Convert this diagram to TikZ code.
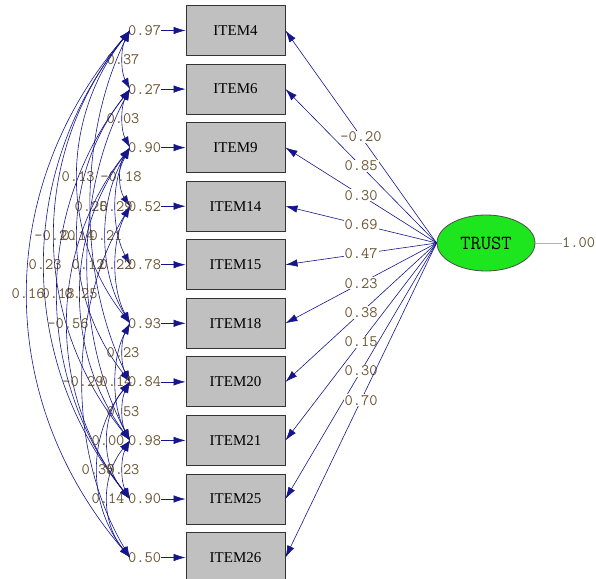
\documentclass[tikz,border=0pt]{standalone}
\usepackage{fontspec}
\setmainfont{Liberation Serif}
\usetikzlibrary{arrows.meta,calc,shapes.geometric}

\definecolor{pathblue}{RGB}{22,22,140}
\definecolor{estbrown}{RGB}{105,85,50}
\definecolor{obsgray}{RGB}{192,192,192}
\definecolor{latgreen}{RGB}{30,230,30}

\tikzset{
  observed/.style={draw=black!80, fill=obsgray, line width=1pt,
    minimum width=99pt, minimum height=50pt, inner sep=0pt,
    font=\fontsize{15}{15}\selectfont},
  latent/.style={ellipse, draw=black!70, fill=latgreen, line width=0.8pt,
    minimum width=98pt, minimum height=56pt, inner sep=0pt,
    font=\ttfamily\fontsize{20}{20}\selectfont},
  est/.style={text=estbrown, inner sep=1pt,
    font=\ttfamily\fontsize{16}{16}\selectfont},
  errval/.style={est, inner sep=0pt, anchor=west},
  path arrow/.style={draw=pathblue, line width=0.6pt,
    -{Latex[length=12pt,width=7.5pt]}},
  cov arrow/.style={draw=pathblue, line width=0.6pt,
    {Latex[length=11pt,width=7.5pt]}-{Latex[length=11pt,width=7.5pt]}},
}

% covariance between two error terms: #3 = how far the arc swings left
\newcommand{\drawcov}[4]{%
  \draw[cov arrow] let \p1=($(#1.west)+(2pt,0)$), \p2=($(#2.west)+(2pt,0)$) in
    (\p1) .. controls (\x1-1.333*#3pt, \y1+0.3*\y2-0.3*\y1)
             and (\x2-1.333*#3pt, \y2-0.3*\y2+0.3*\y1) .. (\p2)
    node[est, pos=0.5] {#4};
}

\begin{document}
\begin{tikzpicture}[x=1pt,y=-1pt]
  \useasboundingbox (0,0) rectangle (596,578);

  % indicators with their error variances
  \foreach \n/\y/\err in {4/30.5/0.97, 6/89.1/0.27, 9/147.6/0.90,
      14/206.2/0.52, 15/264.7/0.78, 18/323.3/0.93, 20/381.9/0.84,
      21/440.4/0.98, 25/499/0.90, 26/557.5/0.50}{
    \node[observed] (I\n) at (235.5,\y) {ITEM\n};
    \node[errval] (e\n) at (128,\y) {\err};
    \draw[path arrow] (e\n) -- (I\n);
  }

  % error covariances
  \foreach \a/\b/\d/\v in {4/6/7/0.37, 6/9/7/0.03, 9/14/9/-0.18,
      4/18/52/0.13, 9/15/14/0.29, 4/20/39/0.25, 4/21/75/-0.20,
      6/20/52/0.14, 9/18/24/0.21, 4/25/85/0.23, 6/21/42/0.12,
      14/18/14/0.22, 4/26/102/0.16, 6/25/72/0.18, 9/21/49/0.25,
      9/25/62/-0.56, 18/20/7/0.23, 14/26/47/-0.29, 18/21/14/0.14,
      20/21/7/0.53, 20/25/22/0.00, 20/26/32/0.35, 21/25/7/0.23,
      21/26/22/0.14}{
    \drawcov{e\a}{e\b}{\d}{\v}
  }

  % latent factor
  \node[latent] (trust) at (486,243) {TRUST};
  \node[errval] (psi) at (562,243) {1.00};
  \draw[black!30, line width=0.8pt] (trust.east) -- (psi.west);

  % loadings
  \foreach \n/\v in {4/-0.20, 6/0.85, 9/0.30, 14/0.69, 15/0.47,
      18/0.23, 20/0.38, 21/0.15, 25/0.30, 26/0.70}{
    \draw[path arrow] (trust.west) -- (I\n.east)
      node[est, fill=white, pos=0.5] {\v};
  }
\end{tikzpicture}
\end{document}
